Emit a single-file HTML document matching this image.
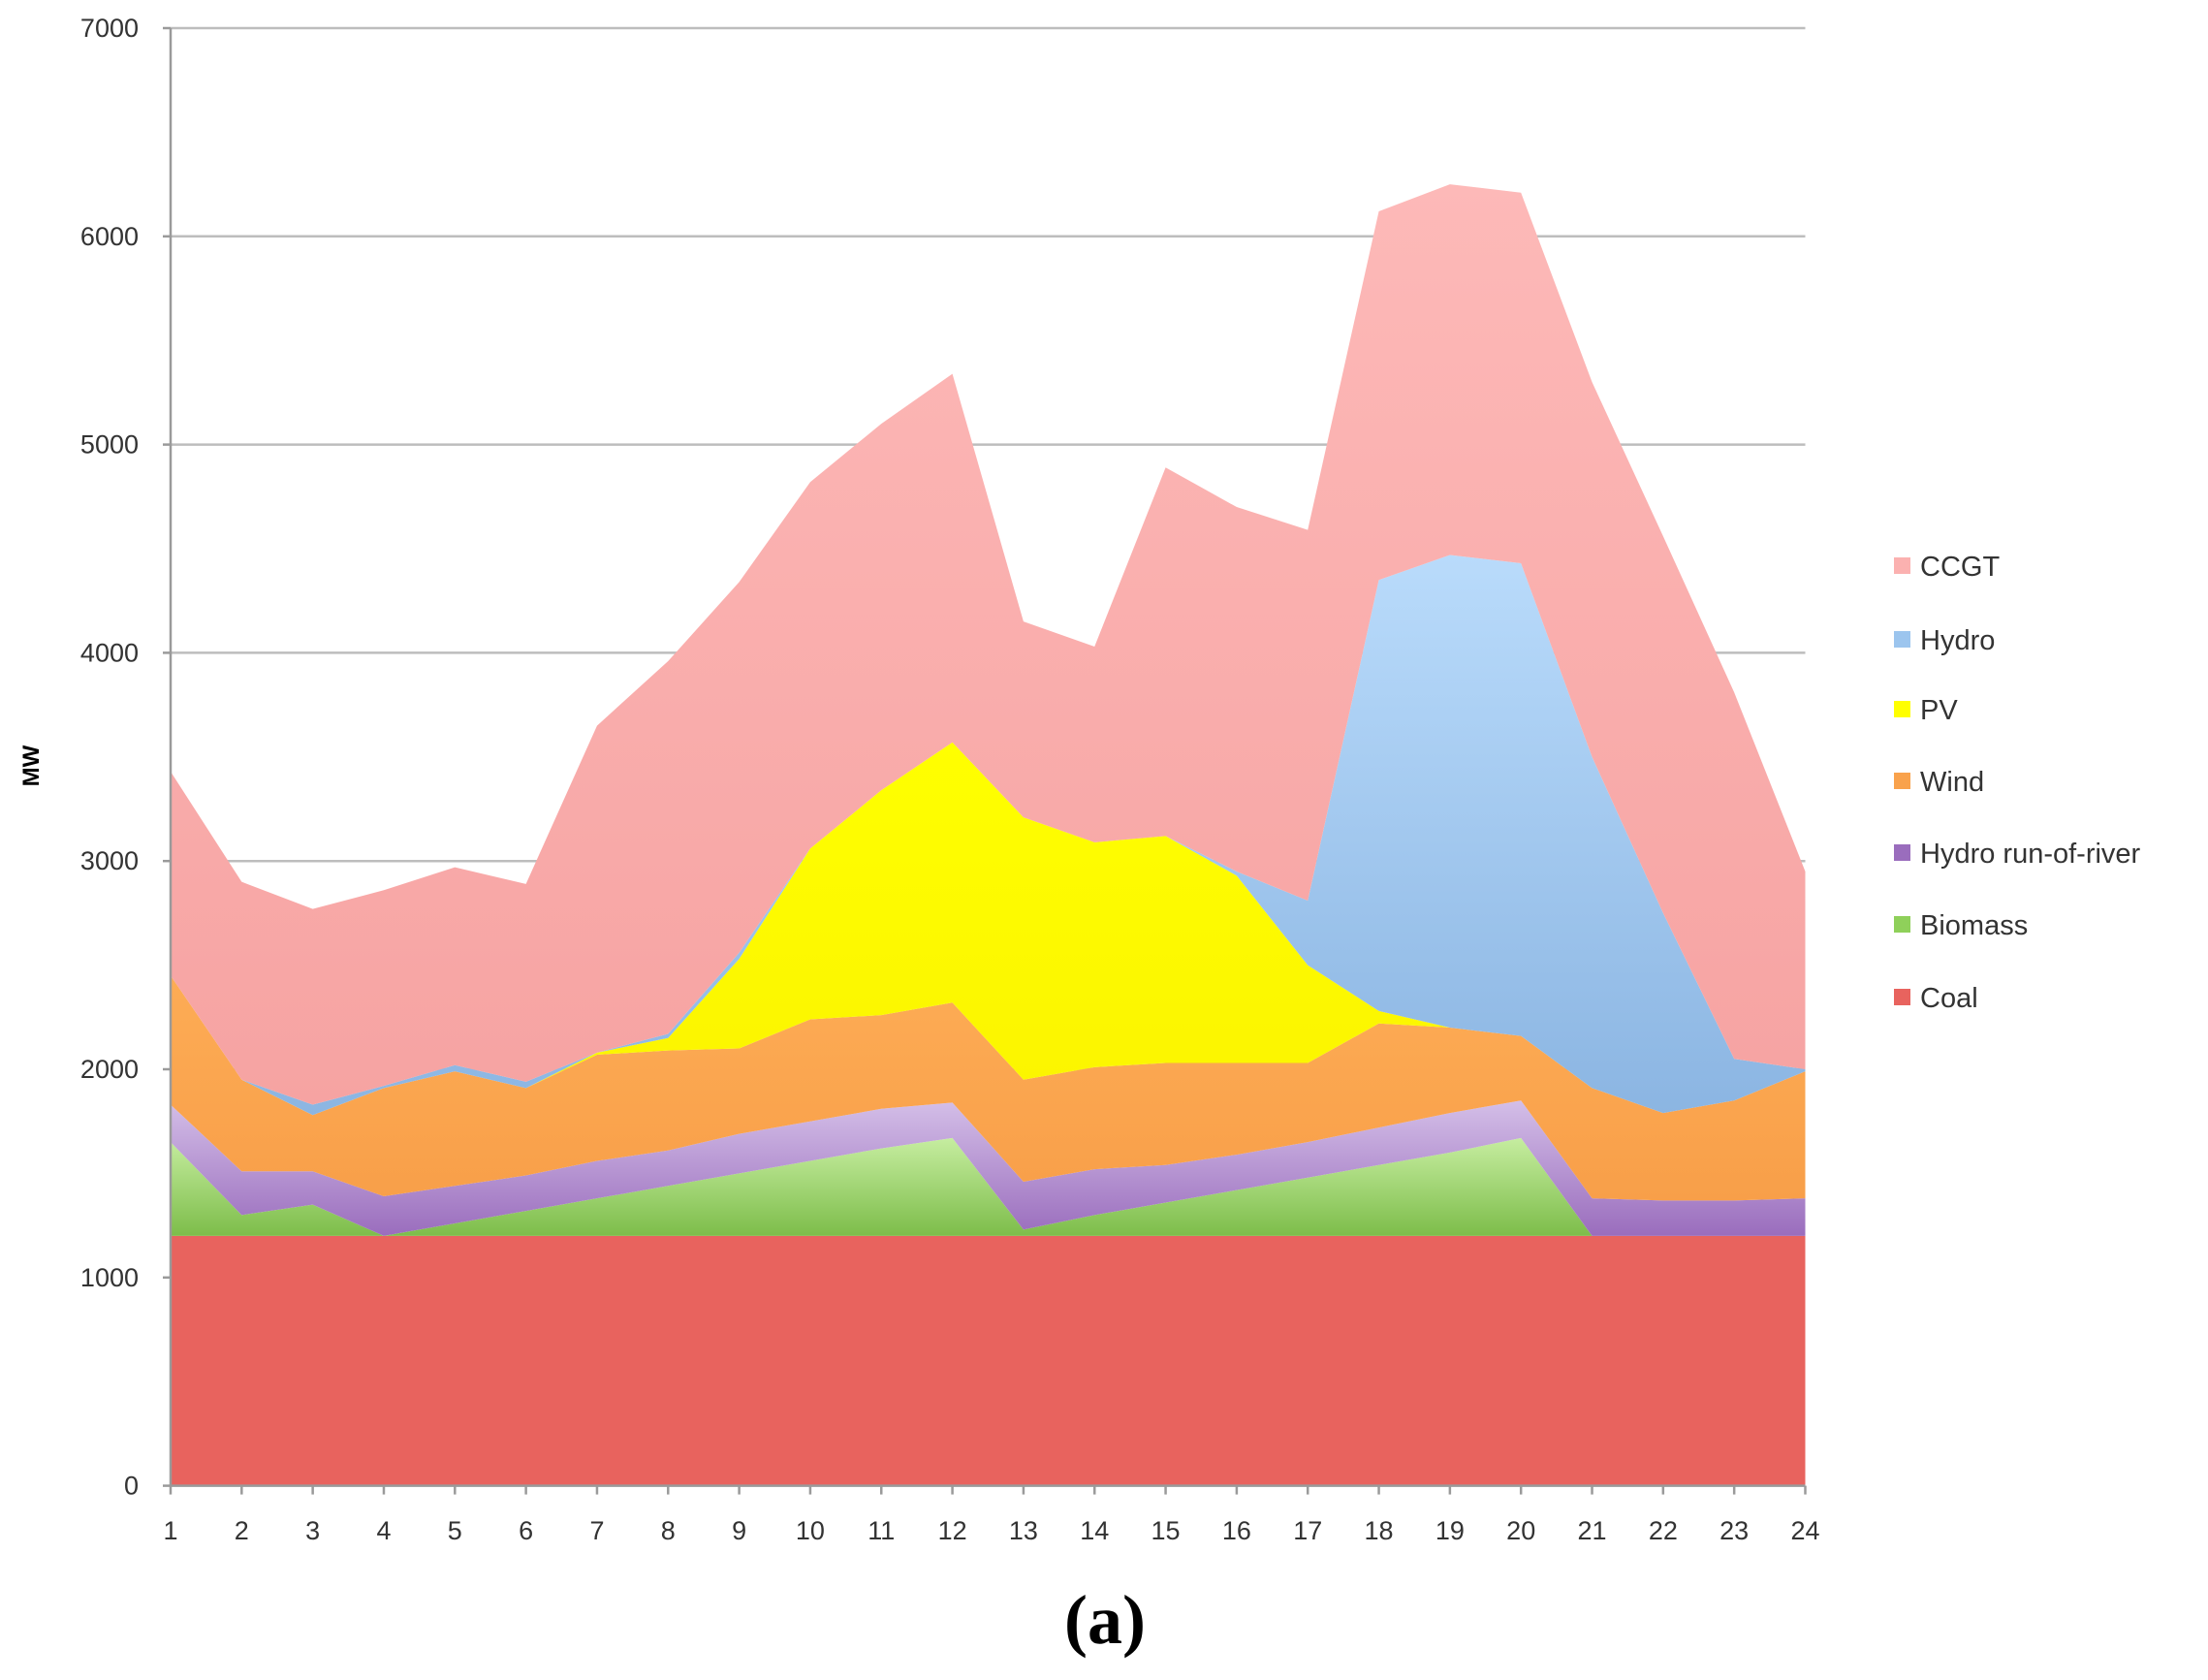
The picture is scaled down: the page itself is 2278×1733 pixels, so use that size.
<!DOCTYPE html>
<html><head><meta charset="utf-8"><style>
html,body{margin:0;padding:0;background:#fff;}
svg{display:block;font-family:"Liberation Sans",sans-serif;}
</style></head><body>
<svg id="chart" width="2278" height="1733" viewBox="0 0 2278 1733">
<defs>
<linearGradient id="g-ccgt" x1="0" y1="0" x2="0" y2="1"><stop offset="0" stop-color="#fdb9b8"/><stop offset="1" stop-color="#f6a3a2"/></linearGradient>
<linearGradient id="g-hydro" x1="0" y1="0" x2="0" y2="1"><stop offset="0" stop-color="#b9dbfb"/><stop offset="1" stop-color="#8bb5e2"/></linearGradient>
<linearGradient id="g-pv" x1="0" y1="0" x2="0" y2="1"><stop offset="0" stop-color="#ffff00"/><stop offset="1" stop-color="#fbf400"/></linearGradient>
<linearGradient id="g-wind" x1="0" y1="0" x2="0" y2="1"><stop offset="0" stop-color="#fdac55"/><stop offset="1" stop-color="#f89f49"/></linearGradient>
<linearGradient id="g-ror" x1="0" y1="0" x2="0" y2="1"><stop offset="0" stop-color="#d4bfe8"/><stop offset="1" stop-color="#9a6dbd"/></linearGradient>
<linearGradient id="g-bio" x1="0" y1="0" x2="0" y2="1"><stop offset="0" stop-color="#c6eda0"/><stop offset="1" stop-color="#7dbd4a"/></linearGradient>
</defs>
<g id="grid"></g>
<g id="areas"></g>
<g id="axes"></g>
<g id="legend"></g>
<text x="0" y="0" transform="translate(40,790) rotate(-90)" text-anchor="middle" font-size="24" font-weight="bold" fill="#000">MW</text>
<text x="1140" y="1695" text-anchor="middle" font-family="'Liberation Serif',serif" font-size="72" font-weight="bold" fill="#000">(a)</text>
</svg>
<script>
const hours=[1,2,3,4,5,6,7,8,9,10,11,12,13,14,15,16,17,18,19,20,21,22,23,24];
const coal=[1200,1200,1200,1200,1200,1200,1200,1200,1200,1200,1200,1200,1200,1200,1200,1200,1200,1200,1200,1200,1200,1200,1200,1200];
const biomass=[450,100,150,0,60,120,180,240,300,360,420,470,30,100,160,220,280,340,400,470,0,0,0,0];
const hydroRor=[180,210,160,190,180,170,180,170,190,190,190,170,230,220,180,170,170,180,190,180,180,170,170,180];
const wind=[620,440,270,520,550,420,510,480,410,490,450,480,490,490,490,440,380,500,410,310,530,420,480,610];
const pv=[0,0,0,0,0,0,10,60,430,820,1080,1250,1260,1080,1090,900,470,60,0,0,0,0,0,0];
const hydro=[0,0,50,10,30,30,0,20,30,0,0,0,0,0,0,20,310,2070,2270,2270,1590,960,200,10];
const ccgt=[980,950,940,940,950,950,1570,1790,1780,1760,1760,1770,940,940,1770,1750,1780,1770,1780,1780,1800,1810,1760,950];
const yTicks=[0,1000,2000,3000,4000,5000,6000,7000];
const seriesNames=["Coal","Biomass","Hydro run-of-river","Wind","PV","Hydro","CCGT"];
const seriesData=[coal,biomass,hydroRor,wind,pv,hydro,ccgt];
const fills=["#e8635e","url(#g-bio)","url(#g-ror)","url(#g-wind)","url(#g-pv)","url(#g-hydro)","url(#g-ccgt)"];
const legendColors=["#e8635e","#8fd05a","#9a6dbd","#f9a24c","#ffff00","#9cc5ee","#fbb1b0"];
const NS="http://www.w3.org/2000/svg";
const L=176,R=1862.5,Y0=1532.6,YT=29;
function X(h){return L+(h-1)*(R-L)/23;}
function Y(v){return Y0-v*(Y0-YT)/7000;}
const grid=document.getElementById('grid');
yTicks.forEach(t=>{
  if(t>0){const l=document.createElementNS(NS,'line');
  
  
  l.setAttribute('x1',L);l.setAttribute('x2',R);l.setAttribute('y1',Y(t));l.setAttribute('y2',Y(t));
  l.setAttribute('stroke','#bdbdbd');l.setAttribute('stroke-width','2.5');grid.appendChild(l);}
  const tx=document.createElementNS(NS,'text');
  
  
  tx.setAttribute('x',143);tx.setAttribute('y',Y(t)+9);tx.setAttribute('text-anchor','end');
  tx.setAttribute('font-size','27');tx.setAttribute('fill','#333');tx.textContent=t;grid.appendChild(tx);
});
const areas=document.getElementById('areas');
let base=hours.map(()=>0);
seriesData.forEach((s,i)=>{
  const top=base.map((b,k)=>b+s[k]);
  let d='M'+hours.map((h,k)=>X(h)+','+Y(top[k])).join(' L');
  for(let k=hours.length-1;k>=0;k--)d+=' L'+X(hours[k])+','+Y(base[k]);
  d+='Z';
  const p=document.createElementNS(NS,'path');
  
  
  p.setAttribute('d',d);p.setAttribute('fill',fills[i]);
  areas.appendChild(p);
  base=top;
});
const axes=document.getElementById('axes');
function line(name,x1,y1,x2,y2){const l=document.createElementNS(NS,'line');
  
  
  l.setAttribute('x1',x1);l.setAttribute('x2',x2);l.setAttribute('y1',y1);l.setAttribute('y2',y2);
  l.setAttribute('stroke','#9a9a9a');l.setAttribute('stroke-width','2.5');axes.appendChild(l);}
line('y-axis-line',L,YT,L,Y0);
line('x-axis-line',L,Y0,R,Y0);
yTicks.forEach(t=>line('y-tick',L-8,Y(t),L,Y(t)));
hours.forEach(h=>{
  line('x-tick',X(h),Y0,X(h),Y0+9);
  const tx=document.createElementNS(NS,'text');
  
  
  tx.setAttribute('x',X(h));tx.setAttribute('y',1588);tx.setAttribute('text-anchor','middle');
  tx.setAttribute('font-size','27');tx.setAttribute('fill','#333');tx.textContent=h;axes.appendChild(tx);
});
const lg=document.getElementById('legend');
const legendY=[584,660,732,806,880,954,1029];
for(let i=0;i<7;i++){
  const idx=6-i;
  const g=document.createElementNS(NS,'g');
  
  
  const r=document.createElementNS(NS,'rect');
  r.setAttribute('x',1954);r.setAttribute('y',legendY[i]-9);r.setAttribute('width',17);r.setAttribute('height',17);
  r.setAttribute('fill',legendColors[idx]);g.appendChild(r);
  const t=document.createElementNS(NS,'text');
  t.setAttribute('x',1981);t.setAttribute('y',legendY[i]+10);t.setAttribute('font-size','29');t.setAttribute('fill','#333');
  t.textContent=seriesNames[idx];g.appendChild(t);
  lg.appendChild(g);
}
</script>
</body></html>
